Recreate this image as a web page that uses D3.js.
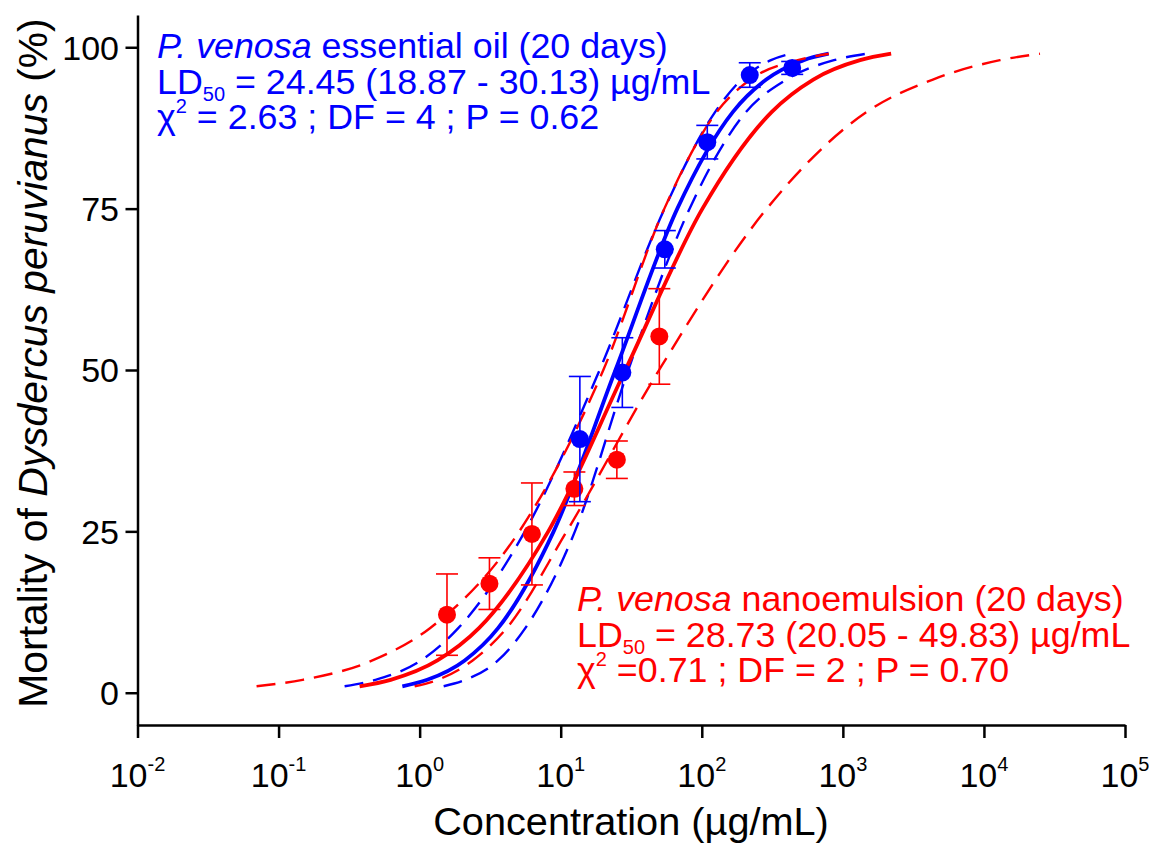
<!DOCTYPE html>
<html>
<head>
<meta charset="utf-8">
<script src="https://cdn.jsdelivr.net/npm/d3@7"></script>
<style>
  html, body { margin: 0; padding: 0; background: #fff; }
  svg { display: block; font-family: "Liberation Sans", Arial, sans-serif; }
</style>
</head>
<body>
<svg id="chart" width="1149" height="843"></svg>
<script>
// ---------------- DATA ----------------
const yTicks = [0, 25, 50, 75, 100];
const xTickExps = [-2, -1, 0, 1, 2, 3, 4, 5];

// mortality levels (%) at which fitted curves / fiducial bands were read
const levels = [1, 2, 5, 10, 25, 50, 75, 90, 95, 98, 99];

// P. venosa essential oil: concentration (µg/mL) at each level
const oilFit   = [0.754, 1.132, 2.088, 3.596, 8.916, 24.45, 67.07, 166.3, 286.3, 527.9, 793.1];
const oilLower = [0.2938, 0.4866, 1.021, 1.878, 5.573, 18.87, 54.47, 124.5, 191.2, 309.2, 427.8];
const oilUpper = [1.480, 2.116, 3.592, 5.609, 12.61, 30.13, 81.93, 206.5, 398.8, 864.8, 1480];

// P. venosa nanoemulsion
const nanoFit   = [0.3754, 0.6233, 1.337, 2.633, 8.166, 28.73, 101.1, 313.6, 617.5, 1324, 2199];
const nanoLower = [0.06982, 0.1480, 0.4627, 1.183, 5.086, 20.05, 54.29, 127.8, 220.8, 479.6, 795.6];
const nanoUpper = [0.9215, 1.344, 2.376, 4.140, 11.03, 49.83, 289.1, 1480, 4348, 12990, 24960];

// observed mortality (mean ± error)
const oilConc = [13.67, 27.34, 54.69, 109.4, 218.8, 437.5];
const oilMort = [39.3, 49.6, 68.7, 85.3, 95.7, 96.8];
const oilErr  = [9.7, 5.4, 2.9, 2.6, 1.9, 1.0];

const nanoConc = [1.5625, 3.125, 6.25, 12.5, 25, 50];
const nanoMort = [12.1, 16.9, 24.6, 31.6, 36.1, 55.2];
const nanoErr  = [6.3, 4.0, 7.9, 2.6, 2.9, 7.4];

const BLUE = "#0000ff", RED = "#ff0000";

// ---------------- CHART ----------------
const svg = d3.select("#chart");
svg.append("rect").attr("width", 1149).attr("height", 843).attr("fill", "#fff");

const x = d3.scaleLog().domain([0.01, 1e5]).range([137.5, 1125]);
const y = d3.scaleLinear().domain([-5, 105]).range([725, 15]);

// axes
const xAxis = d3.axisBottom(x).tickValues(xTickExps.map(e => Math.pow(10, e)))
  .tickSize(13).tickSizeOuter(0).tickFormat("");
const gx = svg.append("g").attr("transform", "translate(0,725)").call(xAxis);
gx.select(".domain").attr("stroke", "#000").attr("stroke-width", 2.5);
gx.selectAll(".tick line").attr("stroke", "#000").attr("stroke-width", 2.5);

const yAxis = d3.axisLeft(y).tickValues(yTicks).tickSize(12).tickSizeOuter(0).tickFormat("");
const gy = svg.append("g").attr("transform", "translate(137.5,0)").call(yAxis);
gy.select(".domain").attr("stroke", "#000").attr("stroke-width", 2.5);
gy.selectAll(".tick line").attr("stroke", "#000").attr("stroke-width", 2.5);

// y tick labels
svg.append("g").selectAll("text").data(yTicks).join("text")
  .attr("x", 119).attr("y", d => y(d)).attr("dy", "0.36em")
  .attr("text-anchor", "end").attr("font-size", 34).attr("fill", "#000")
  .text(d => d);

// x tick labels 10^e
const xl = svg.append("g").selectAll("text").data(xTickExps).join("text")
  .attr("x", d => x(Math.pow(10, d))).attr("y", 787)
  .attr("text-anchor", "middle").attr("font-size", 34).attr("fill", "#000");
xl.append("tspan").text("10");
xl.append("tspan").attr("font-size", 20).attr("dy", -16).text(d => d);

// axis titles
svg.append("text").attr("x", 631).attr("y", 835).attr("text-anchor", "middle")
  .attr("font-size", 39.7).attr("fill", "#000").text("Concentration (µg/mL)");

const yt = svg.append("text").attr("transform", "translate(47,363) rotate(-90)")
  .attr("text-anchor", "middle").attr("font-size", 40.8).attr("fill", "#000");
yt.append("tspan").text("Mortality of ");
yt.append("tspan").attr("font-style", "italic").text("Dysdercus peruvianus");
yt.append("tspan").text(" (%)");

// curves
const line = d3.line().x(d => x(d[0])).y(d => y(d[1])).curve(d3.curveMonotoneX);
function drawCurve(conc, color, dashed) {
  svg.append("path")
    .datum(conc.map((c, i) => [c, levels[i]]))
    .attr("d", line).attr("fill", "none").attr("stroke", color)
    .attr("stroke-width", dashed ? 2.4 : 3.8)
    .attr("stroke-dasharray", dashed ? "19,10" : null);
}
drawCurve(oilLower, BLUE, true);
drawCurve(oilUpper, BLUE, true);
drawCurve(oilFit, BLUE, false);
drawCurve(nanoLower, RED, true);
drawCurve(nanoUpper, RED, true);
drawCurve(nanoFit, RED, false);

// error bars + points
function drawPoints(conc, mort, err, color) {
  const g = svg.append("g").attr("stroke", color).attr("fill", color);
  conc.forEach((c, i) => {
    const cx = x(c), top = y(mort[i] + err[i]), bot = y(mort[i] - err[i]);
    g.append("line").attr("x1", cx).attr("x2", cx).attr("y1", top).attr("y2", bot).attr("stroke-width", 1.6);
    g.append("line").attr("x1", cx - 11).attr("x2", cx + 11).attr("y1", top).attr("y2", top).attr("stroke-width", 1.6);
    g.append("line").attr("x1", cx - 11).attr("x2", cx + 11).attr("y1", bot).attr("y2", bot).attr("stroke-width", 1.6);
    g.append("circle").attr("cx", cx).attr("cy", y(mort[i])).attr("r", 9).attr("stroke", "none");
  });
}
drawPoints(nanoConc, nanoMort, nanoErr, RED);
drawPoints(oilConc, oilMort, oilErr, BLUE);

// annotations
function annotate(x0, y0, color, name, ld, ci, chi, df, p, chiSep) {
  const g = svg.append("g").attr("fill", color).attr("font-size", 35.8);
  const t1 = g.append("text").attr("x", x0).attr("y", y0);
  t1.append("tspan").attr("font-style", "italic").text("P. venosa");
  t1.append("tspan").text(" " + name + " (20 days)");
  const t2 = g.append("text").attr("x", x0).attr("y", y0 + 35.5);
  t2.append("tspan").text("LD");
  t2.append("tspan").attr("font-size", 20).attr("dy", 7).text("50");
  t2.append("tspan").attr("dy", -7).text(" = " + ld + " (" + ci + ") µg/mL");
  const t3 = g.append("text").attr("x", x0).attr("y", y0 + 71);
  t3.append("tspan").text("χ");
  t3.append("tspan").attr("font-size", 20).attr("dy", -16).text("2");
  t3.append("tspan").attr("dy", 16).text(chiSep + chi + " ; DF = " + df + " ; P = " + p);
}
annotate(157, 58, BLUE, "essential oil", "24.45", "18.87 - 30.13", "2.63", "4", "0.62", " = ");
annotate(577, 611, RED, "nanoemulsion", "28.73", "20.05 - 49.83", "0.71", "2", "0.70", " =");
</script>
</body>
</html>
